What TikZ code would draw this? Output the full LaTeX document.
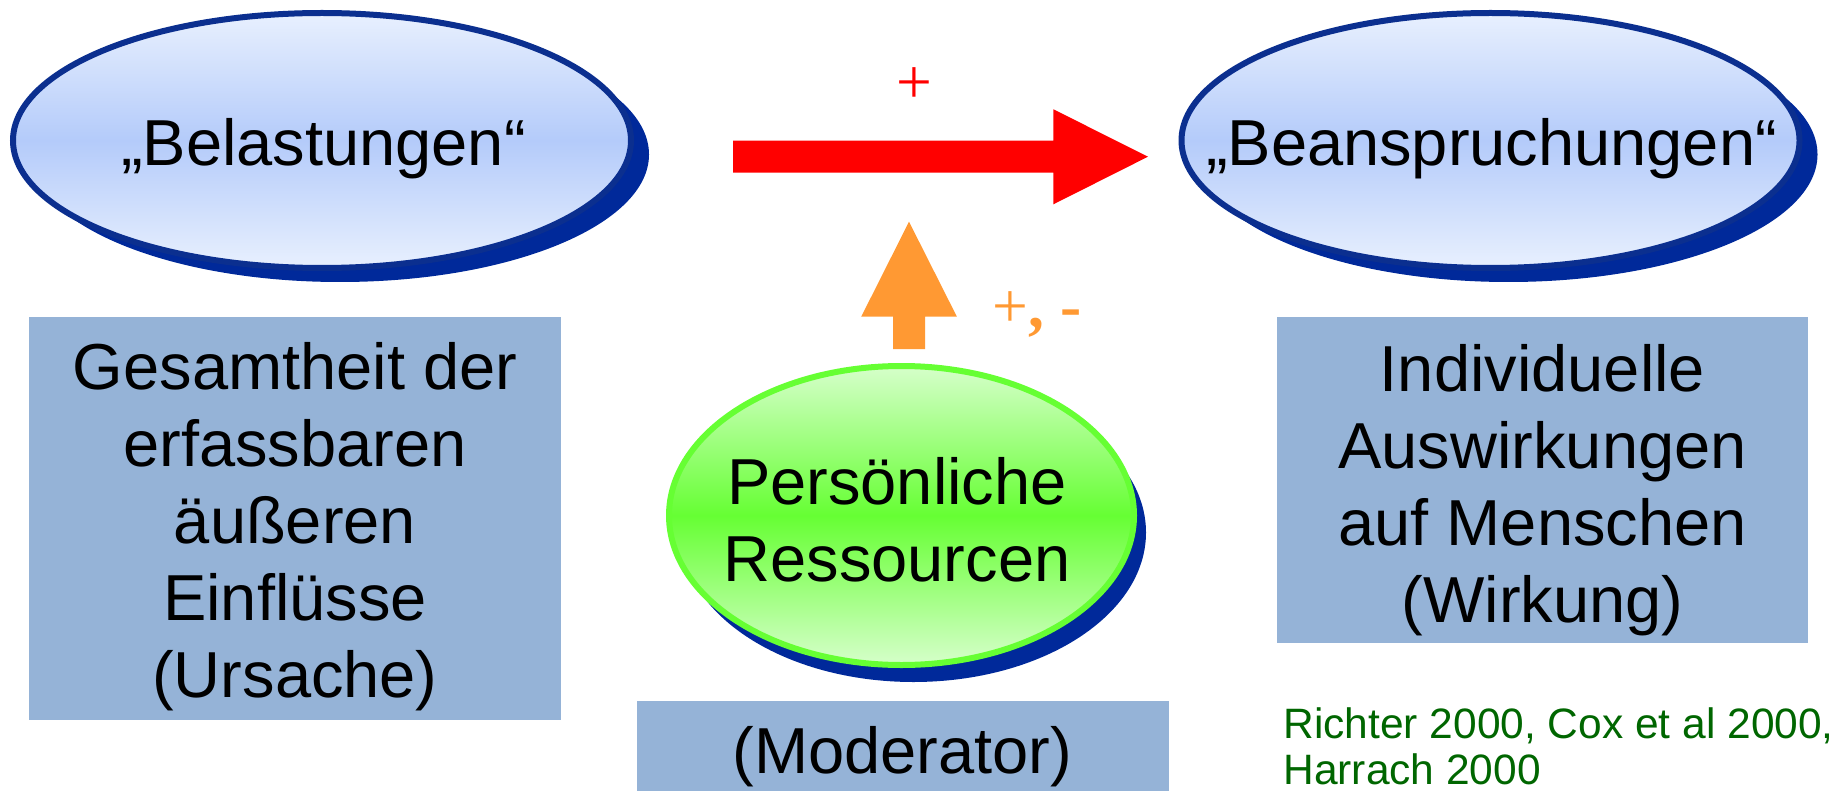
\documentclass[tikz,border=0pt]{standalone}
\usepackage{fontspec}
\setmainfont{Liberation Sans}
\newfontfamily\signfont{Liberation Serif}
\usetikzlibrary{shapes.geometric,shadows}
\definecolor{bluedark}{HTML}{00299A}
\definecolor{blueborder}{HTML}{0B2F8F}
\definecolor{bluelight}{HTML}{E8F0FE}
\definecolor{bluemid}{HTML}{B4CBFA}
\definecolor{greenbord}{HTML}{66FF33}
\definecolor{greenlight}{HTML}{D6FFCA}
\definecolor{boxblue}{HTML}{95B3D7}
\definecolor{orangearrow}{HTML}{FF9933}
\definecolor{citegreen}{HTML}{006600}
\definecolor{redarrow}{HTML}{FF0000}
\begin{document}
\begin{tikzpicture}[x=0.5pt,y=-0.5pt,
  blueell/.style={ellipse, inner sep=0pt, draw=blueborder, line width=3pt,
    top color=bluelight, bottom color=bluelight, middle color=bluemid,
    general shadow={fill=bluedark, shadow xshift=9pt, shadow yshift=-7pt},
    minimum width=309pt, minimum height=127.5pt},
  greenell/.style={ellipse, inner sep=0pt, draw=greenbord, line width=3pt,
    top color=greenlight, bottom color=greenlight, middle color=greenbord,
    general shadow={fill=bluedark, shadow xshift=6pt, shadow yshift=-8.5pt},
    minimum width=232.5pt, minimum height=149.5pt},
  maintext/.style={inner sep=0pt, align=center, font=\fontsize{32.5}{38.5}\selectfont},
  bluebox/.style={rectangle, fill=boxblue, inner sep=0pt},
  signtext/.style={anchor=base, inner sep=0pt, font=\signfont\fontsize{31.75}{36}\selectfont},
  citetext/.style={anchor=north west, inner sep=0pt, align=left, text depth=0pt, text=citegreen, font=\fontsize{21.25}{23}\selectfont}
]
\useasboundingbox (0,0) rectangle (1841,791);

% ellipses
\node[blueell] (bel) at (322,140.5) {};
\node[maintext, anchor=base] (beltext) at (323.5,166) {„Belastungen“};
\node[blueell] (bea) at (1490.5,140.5) {};
\node[maintext, anchor=base] (beatext) at (1491.5,166) {„Beanspruchungen“};

% boxes
\node[bluebox, minimum width=265.85pt, minimum height=201.5pt] (ursache) at (294.85,518.5) {};
\node[maintext, anchor=north] (ursachetext) at (295,341.7) {Gesamtheit der\\erfassbaren\\äußeren\\Einflüsse\\(Ursache)};
\node[bluebox, minimum width=265.8pt, minimum height=163.15pt] (wirkung) at (1542.5,480.15) {};
\node[maintext, anchor=north] (wirkungtext) at (1542.5,344) {Individuelle\\Auswirkungen\\auf Menschen\\(Wirkung)};
\node[bluebox, minimum width=266pt, minimum height=55pt] (moderator) at (903,755.7) {};
\node[maintext, anchor=base] (moderatortext) at (902.5,773) {(Moderator)};

% green ellipse
\node[greenell] (res) at (901.5,515.5) {};
\node[maintext, anchor=north] (restext) at (897,456.5) {Persönliche\\Ressourcen};

% red arrow
\fill[redarrow] (733,140.7) -- (1053.4,140.7) -- (1053.4,109.3) -- (1148,156.7) -- (1053.4,204.3) -- (1053.4,172.7) -- (733,172.7) -- cycle;
\node[signtext, text=redarrow] (plus) at (914.5,104) {+};

% orange arrow
\fill[orangearrow] (893.1,349) -- (893.1,316.7) -- (861.2,316.7) -- (909,221.7) -- (956.9,316.7) -- (925,316.7) -- (925,349) -- cycle;
\node[signtext, anchor=base west, text=orangearrow] (plusminus) at (992.5,327) {+\textbf{, -}};

% citation
\node[citetext] (cite) at (1283,707.6) {Richter 2000, Cox et al 2000,\\Harrach 2000};
\end{tikzpicture}
\end{document}
